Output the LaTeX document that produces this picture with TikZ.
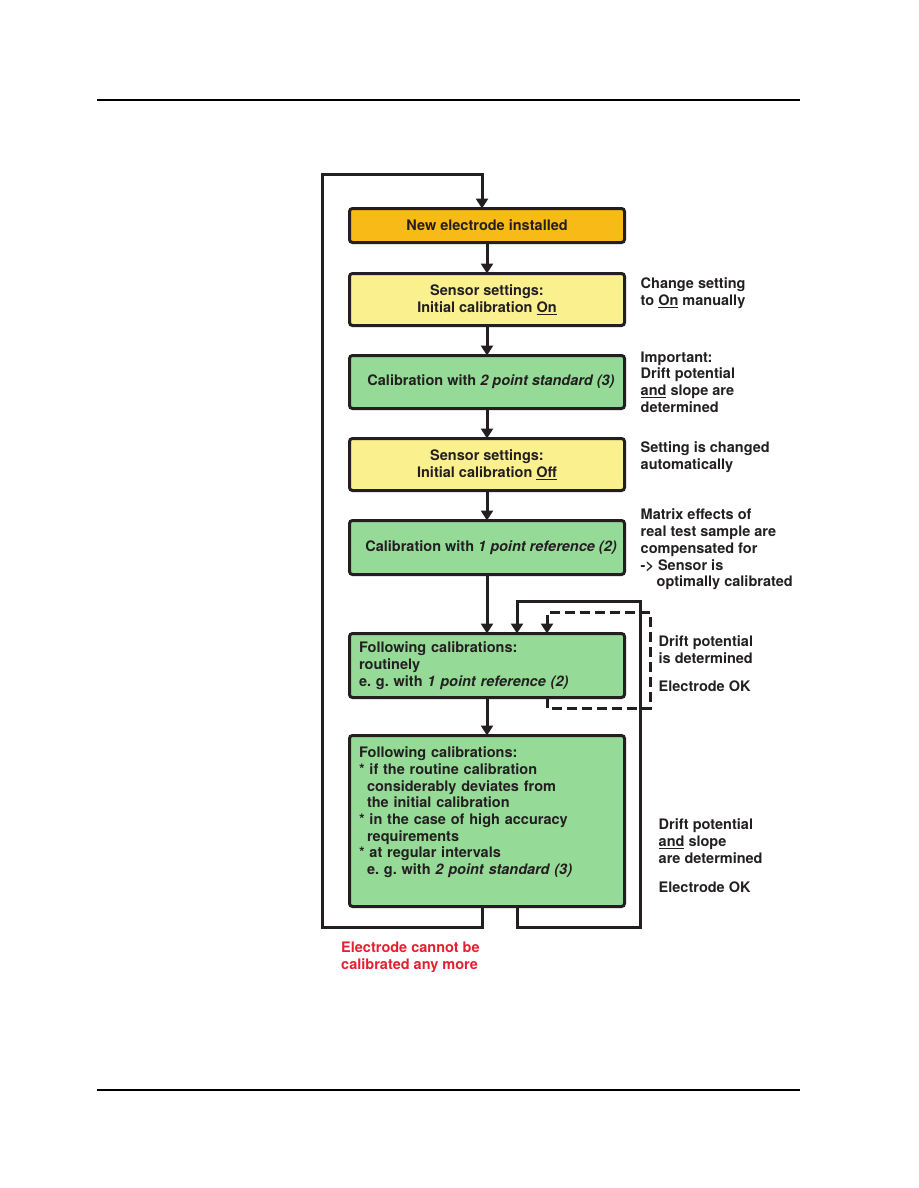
\documentclass[tikz,border=0pt]{standalone}
\usepackage{fontspec}
\setmainfont{TeX Gyre Heros}
\usepackage{xcolor}
\usepackage{tikz}
\usetikzlibrary{arrows.meta,positioning}
\definecolor{amber}{HTML}{F8BA16}
\definecolor{lemon}{HTML}{FAF08E}
\definecolor{mint}{HTML}{96DA98}
\definecolor{alarm}{HTML}{E4202F}
\definecolor{ink}{HTML}{231F20}
\tikzset{
  box/.style={draw=ink,rounded corners=3pt,line width=3pt,align=center,minimum width=275pt,inner sep=0pt,outer sep=0pt,text=ink},
  boxo/.style={box,fill=amber,minimum height=34pt},
  boxy/.style={box,fill=lemon,minimum height=52pt},
  boxm/.style={box,fill=mint,minimum height=53pt},
  boxl/.style={box,fill=mint,align=left,text width=256pt},
  arr/.style={-{Triangle[length=10pt,width=12pt]},line width=3pt,color=ink},
  arrd/.style={arr,dash pattern=on 10pt off 5pt},
  note/.style={align=left,anchor=west,inner sep=0pt,text=ink},
  rule/.style={line width=1.2pt,black},
}

\begin{document}
\begin{tikzpicture}[x=1pt,y=-1pt,node distance=30pt,font=\bfseries\fontsize{14.5}{16.7}\selectfont]
\useasboundingbox (0,0) rectangle (918,1188);
% page rules
\draw[rule] (97,100) -- (800,100);
\draw[rule] (97,1090) -- (800,1090);
% main column
\node[boxo] (new) at (487,225.5) {New electrode installed};
\node[boxy,below=31pt of new] (setOn) {Sensor settings:\\ Initial calibration \underline{On}};
\node[boxm,below=of setOn] (cal3) {\hspace*{8pt}Calibration with \textit{2 point standard (3)}};
\node[boxy,below=of cal3] (setOff) {Sensor settings:\\ Initial calibration \underline{Off}};
\node[boxm,below=of setOff,minimum height=54pt] (cal2) {\hspace*{8pt}Calibration with \textit{1 point reference (2)}};
\node[boxl,below=59pt of cal2,minimum height=64pt] (routine) {Following calibrations:\\ routinely\\ e.\ g.\ with \textit{1 point reference (2)}};
\node[boxl,below=38pt of routine,minimum height=171pt] (extra) {Following calibrations:\\
{*} if the routine calibration\\
\hspace*{8pt}considerably deviates from\\
\hspace*{8pt}the initial calibration\\
{*} in the case of high accuracy\\
\hspace*{8pt}requirements\\
{*} at regular intervals\\
\hspace*{8pt}e.\ g.\ with \textit{2 point standard (3)}\\[4pt]
\mbox{}};
\draw[arr] (new) -- (setOn);
\draw[arr] (setOn) -- (cal3);
\draw[arr] (cal3) -- (setOff);
\draw[arr] (setOff) -- (cal2);
\draw[arr] (cal2) -- (routine);
\draw[arr] (routine) -- (extra);
% loops
\coordinate (lbot) at (322,927);
\coordinate (ltop) at (482,174);
\coordinate (rbot) at (640,927);
\coordinate (rtop) at (517,601);
\coordinate (dbot) at (650,708);
\coordinate (dtop) at (547,612);
\draw[arr] ([xshift=-5pt]extra.south) |- (lbot) |- (ltop) -- ([xshift=-5pt]new.north);
\draw[arr] ([xshift=30pt]extra.south) |- (rbot) |- (rtop) -- ([xshift=30pt]routine.north);
\draw[arrd] ([xshift=60pt]routine.south) |- (dbot) |- (dtop) -- ([xshift=60pt]routine.north);
% notes
\node[note,right=16pt of setOn,yshift=6pt] (nOn) {Change setting\\ to \underline{On} manually};
\node[note,right=16pt of cal3] (nCal3) {Important:\\ Drift potential\\ \underline{and} slope are\\ determined};
\node[note,right=16pt of setOff,yshift=7pt] (nOff) {Setting is changed\\ automatically};
\node[note,right=16pt of cal2,yshift=-2pt] (nCal2) {Matrix effects of\\ real test sample are\\ compensated for\\ -> Sensor is\\ \hspace*{16pt}optimally calibrated};
\node[note,right=34pt of routine,yshift=2pt] (nRoutine) {Drift potential\\ is determined\\[11pt] Electrode OK};
\node[note,right=34pt of extra,yshift=-35pt] (nExtra) {Drift potential\\ \underline{and} slope\\ are determined\\[13pt] Electrode OK};
\node[note,anchor=north west,text=alarm] (nFail) at (341,942) {Electrode cannot be\\ calibrated any more};
\end{tikzpicture}
\end{document}
